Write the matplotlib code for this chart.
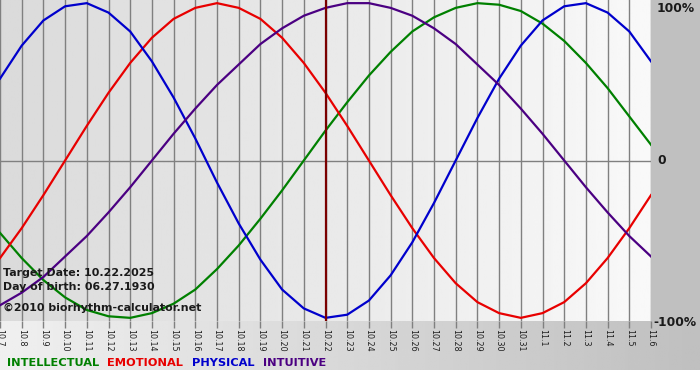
import numpy as np
import matplotlib
matplotlib.use('Agg')
import matplotlib.pyplot as plt
from matplotlib.patches import Rectangle

# dias (10.7 ate 11.6)
dates = ['10.7', '10.8', '10.9', '10.10', '10.11', '10.12', '10.13', '10.14', '10.15', '10.16',
         '10.17', '10.18', '10.19', '10.20', '10.21', '10.22', '10.23', '10.24', '10.25', '10.26',
         '10.27', '10.28', '10.29', '10.30', '10.31', '11.1', '11.2', '11.3', '11.4', '11.5', '11.6']

intellectual = [-0.46, -0.62, -0.76, -0.87, -0.95, -0.99, -1.00, -0.97, -0.91, -0.82,
                -0.69, -0.54, -0.37, -0.19, 0.00, 0.19, 0.37, 0.54, 0.69, 0.82,
                0.91, 0.97, 1.00, 0.99, 0.95, 0.87, 0.76, 0.62, 0.46, 0.28, 0.10]
emotional = [-0.62, -0.43, -0.22, 0.00, 0.22, 0.43, 0.62, 0.78, 0.90, 0.97,
             1.00, 0.97, 0.90, 0.78, 0.62, 0.43, 0.22, 0.00, -0.22, -0.43,
             -0.62, -0.78, -0.90, -0.97, -1.00, -0.97, -0.90, -0.78, -0.62, -0.43, -0.22]
physical = [0.52, 0.73, 0.89, 0.98, 1.00, 0.94, 0.82, 0.63, 0.40, 0.14,
            -0.14, -0.40, -0.63, -0.82, -0.94, -1.00, -0.98, -0.89, -0.73, -0.52,
            -0.27, 0.00, 0.27, 0.52, 0.73, 0.89, 0.98, 1.00, 0.94, 0.82, 0.63]
intuitive = [-0.92, -0.84, -0.74, -0.61, -0.48, -0.33, -0.17, 0.00, 0.17, 0.33,
             0.48, 0.61, 0.74, 0.84, 0.92, 0.97, 1.00, 1.00, 0.97, 0.92,
             0.84, 0.74, 0.61, 0.48, 0.33, 0.17, 0.00, -0.17, -0.33, -0.48, -0.61]

target_date = '10.22'
series = [('INTELLECTUAL', intellectual, '#008000'),
          ('EMOTIONAL', emotional, '#e80000'),
          ('PHYSICAL', physical, '#0000cc'),
          ('INTUITIVE', intuitive, '#4b0082')]

W, H = 700, 380
fig = plt.figure(figsize=(7, 3.8), dpi=100, facecolor='white')

# fundo: faixa inferior em degrade e painel cinza a direita
bg = fig.add_axes([0, 0, 1, 1], zorder=-1)
bg.set_xlim(0, W)
bg.set_ylim(H, 0)
bg.axis('off')
grad = np.linspace(0.94, 0.75, 256).reshape(1, -1)
bg.imshow(grad, cmap='gray', vmin=0, vmax=1, extent=(0, W, 370, 321), aspect='auto')
bg.add_patch(Rectangle((651, 0), 49, 321, color='#c0c0c0', lw=0))

ax = fig.add_axes([0, 59 / H, 651 / W, 321 / H])
x = np.arange(len(dates))
ymax = 1.02
ax.set_xlim(0, len(dates) - 1)
ax.set_ylim(-ymax, ymax)

pgrad = np.linspace(0.855, 0.975, 256).reshape(1, -1)
ax.imshow(pgrad, cmap='gray', vmin=0, vmax=1, extent=(0, len(dates) - 1, -ymax, ymax),
          aspect='auto', zorder=0)

for xi in x:
    ax.axvline(xi, color='#808080', lw=1, zorder=1)
ax.axhline(0, color='#808080', lw=1, zorder=1)

for name, vals, col in series:
    ax.plot(x, vals, color=col, lw=1.6, zorder=3, solid_joinstyle='round')

ax.axvline(dates.index(target_date), color='#7a0000', lw=1.6, zorder=4)

for s in ax.spines.values():
    s.set_visible(False)
ax.set_yticks([])
ax.set_xticks(x)
ax.set_xticklabels(dates, rotation=-90, fontsize=5.8, color='#202020', va='top', ha='center')
ax.tick_params(axis='x', length=5, color='#808080', width=1, pad=1)

txt = dict(fontsize=7.9, fontweight='bold', color='#1a1a1a', transform=bg.transData, zorder=10)
fig.text(3, 276, 'Target Date: 10.22.2025', **txt)
fig.text(3, 290, 'Day of birth: 06.27.1930', **txt)
fig.text(3, 311, '\u00a92010 biorhythm-calculator.net', **txt)

lab = dict(fontsize=8.8, fontweight='bold', color='#1a1a1a', transform=bg.transData, va='center')
fig.text(657, 8, '100%', **lab)
fig.text(657, 161, '0', **lab)
fig.text(653, 322, '-100%', **lab)

# legenda em linha
prev = fig.text(7, 366, series[0][0], fontsize=8.2, fontweight='bold', color=series[0][2],
                transform=bg.transData)
for name, vals, col in series[1:]:
    prev = bg.annotate(name, xy=(1, 0), xycoords=prev, xytext=(6, 0), textcoords='offset points',
                       fontsize=8.2, fontweight='bold', color=col, va='bottom')

fig.savefig('out.png', dpi=100)
